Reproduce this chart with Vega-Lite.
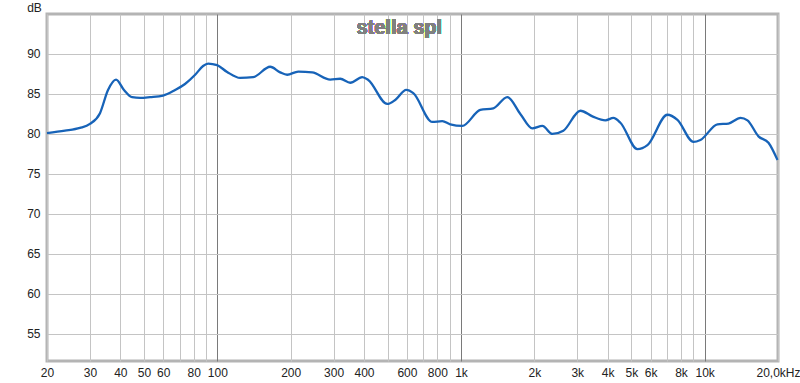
{
  "$schema": "https://vega.github.io/schema/vega-lite/v6.json",
  "width": 731,
  "height": 347,
  "autosize": "none",
  "padding": {"left": 47, "top": 14, "right": 22, "bottom": 22},
  "background": "white",
  "config": {
    "font": "Liberation Sans",
    "view": {"stroke": "#b4b4b4", "strokeWidth": 3},
    "axis": {"domain": false, "ticks": false, "labelFont": "Liberation Sans", "labelFontSize": 12, "labelColor": "#222222"}
  },
  "data": {"values": [
    {"f": 20, "db": 80.1}, {"f": 23.7, "db": 80.4}, {"f": 27.3, "db": 80.75}, {"f": 30, "db": 81.25},
    {"f": 33, "db": 82.6}, {"f": 35.6, "db": 85.5}, {"f": 38.4, "db": 86.8}, {"f": 41.4, "db": 85.5},
    {"f": 44.7, "db": 84.6}, {"f": 48.2, "db": 84.5}, {"f": 53, "db": 84.6}, {"f": 59.9, "db": 84.8},
    {"f": 67.1, "db": 85.5}, {"f": 73.7, "db": 86.25}, {"f": 81.1, "db": 87.4}, {"f": 87.4, "db": 88.5},
    {"f": 91.7, "db": 88.8}, {"f": 99.8, "db": 88.6}, {"f": 109.7, "db": 87.75}, {"f": 124.1, "db": 87.0},
    {"f": 140.3, "db": 87.1}, {"f": 164.8, "db": 88.4}, {"f": 181.1, "db": 87.7}, {"f": 193.5, "db": 87.4},
    {"f": 214.8, "db": 87.8}, {"f": 245.1, "db": 87.7}, {"f": 290.6, "db": 86.8}, {"f": 319.5, "db": 86.9},
    {"f": 351.2, "db": 86.4}, {"f": 393.3, "db": 87.1}, {"f": 416.3, "db": 86.75}, {"f": 498.2, "db": 83.75},
    {"f": 537.4, "db": 84.25}, {"f": 596.4, "db": 85.5}, {"f": 637.2, "db": 85.1}, {"f": 762.4, "db": 81.5},
    {"f": 838.1, "db": 81.6}, {"f": 903.8, "db": 81.2}, {"f": 1012, "db": 81.0}, {"f": 1200, "db": 83.0},
    {"f": 1357, "db": 83.2}, {"f": 1549, "db": 84.6}, {"f": 1752, "db": 82.5}, {"f": 1962, "db": 80.7},
    {"f": 2158, "db": 81.0}, {"f": 2371, "db": 80.0}, {"f": 2631, "db": 80.4}, {"f": 3091, "db": 82.9},
    {"f": 3462, "db": 82.2}, {"f": 3914, "db": 81.7}, {"f": 4222, "db": 82.0}, {"f": 4511, "db": 81.4},
    {"f": 5297, "db": 78.1}, {"f": 5823, "db": 78.6}, {"f": 7036, "db": 82.4}, {"f": 7734, "db": 81.75},
    {"f": 8996, "db": 79.0}, {"f": 9610, "db": 79.25}, {"f": 11290, "db": 81.2}, {"f": 12527, "db": 81.3},
    {"f": 14032, "db": 82.0}, {"f": 14988, "db": 81.7}, {"f": 16627, "db": 79.7}, {"f": 18280, "db": 78.9},
    {"f": 19900, "db": 76.75}
  ]},
  "encoding": {
    "x": {
      "field": "f", "type": "quantitative",
      "scale": {"type": "log", "domain": [20, 20000], "nice": false},
      "axis": {
        "title": null,
        "values": [20, 30, 40, 50, 60, 70, 80, 90, 100, 200, 300, 400, 500, 600, 700, 800, 900, 1000, 2000, 3000, 4000, 5000, 6000, 7000, 8000, 9000, 10000, 20000],
        "labelExpr": "datum.value == 20000 ? '20,0kHz' : (indexof([70, 90, 500, 700, 900, 7000, 9000], datum.value) >= 0 ? '' : (datum.value >= 1000 ? (datum.value / 1000) + 'k' : '' + datum.value))",
        "labelPadding": 6,
        "labelFlush": false,
        "labelOverlap": false,
        "gridColor": {"condition": {"test": "datum.value == 100 || datum.value == 1000 || datum.value == 10000", "value": "#7a7a7a"}, "value": "#c4c4c4"},
        "gridWidth": 1
      }
    },
    "y": {
      "field": "db", "type": "quantitative",
      "scale": {"domain": [51.6, 95], "nice": false, "zero": false},
      "axis": {
        "values": [55, 60, 65, 70, 75, 80, 85, 90],
        "gridColor": "#c4c4c4",
        "labelPadding": 7,
        "title": "dB",
        "titleAngle": 0,
        "titleX": -13,
        "titleY": -7,
        "titleAlign": "center",
        "titleBaseline": "middle",
        "titleFontWeight": "normal",
        "titleFontSize": 12,
        "titleColor": "#222222",
        "titleFont": "Liberation Sans"
      }
    }
  },
  "layer": [
    {"mark": {"type": "line", "interpolate": "monotone", "color": "#1763b8", "strokeWidth": 2.3}},
    {
      "mark": {"type": "text", "text": "stella spl", "fontSize": 20, "fontWeight": "bold", "color": "#808080", "font": "Liberation Sans", "align": "center", "baseline": "alphabetic"},
      "encoding": {
        "x": {"datum": 558, "type": "quantitative"},
        "y": {"datum": 92.5, "type": "quantitative"}
      }
    }
  ]
}
